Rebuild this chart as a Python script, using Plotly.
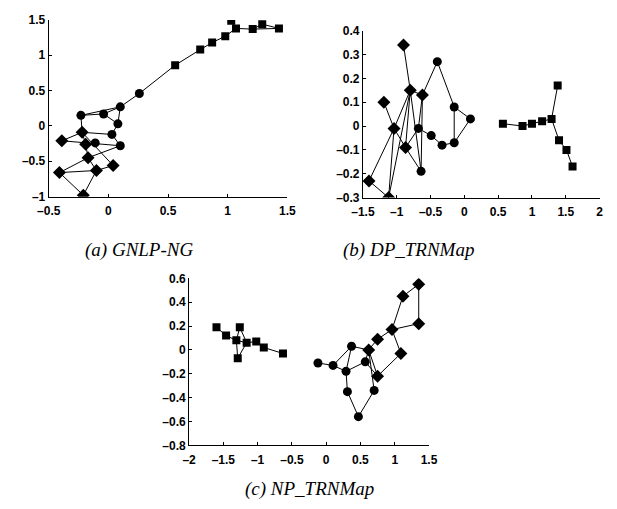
import plotly.graph_objects as go

# ---------------- Panel (a) GNLP-NG ----------------
A_SQ_X = [1.03, 1.07, 1.21, 1.29, 1.43, 0.98, 0.87, 0.77, 0.56]
A_SQ_Y = [1.49, 1.38, 1.37, 1.44, 1.38, 1.27, 1.18, 1.08, 0.86]
A_CI_X = [0.26, 0.10, -0.04, -0.23, 0.08, 0.03, -0.11, 0.10]
A_CI_Y = [0.46, 0.27, 0.17, 0.15, 0.03, -0.12, -0.24, -0.28]
A_DI_X = [-0.22, -0.39, -0.19, -0.17, 0.04, -0.10, -0.41, -0.21]
A_DI_Y = [-0.09, -0.21, -0.26, -0.45, -0.56, -0.63, -0.66, -0.98]
A_EDGES = [("c0", "s8"), ("s8", "s7"), ("s7", "s6"), ("s6", "s5"), ("s5", "s1"),
           ("s1", "s0"), ("s1", "s2"), ("s2", "s3"), ("s3", "s4"), ("s2", "s4"),
           ("c0", "c1"), ("c1", "c3"), ("c1", "c2"), ("c2", "c3"), ("c1", "c4"),
           ("c2", "c4"), ("c3", "d0"), ("d0", "c5"), ("c4", "c5"), ("c5", "c7"),
           ("d0", "d1"), ("d1", "c7"), ("c6", "d2"), ("d0", "d2"), ("d2", "d3"),
           ("d0", "d4"), ("c7", "d3"), ("d3", "d6"), ("d6", "d5"), ("d3", "d5"),
           ("d5", "d4"), ("d6", "d7"), ("d5", "d7")]
A_XTICKS = [-0.5, 0, 0.5, 1, 1.5]
A_YTICKS = [-1, -0.5, 0, 0.5, 1, 1.5]
A_XRANGE = [-0.5, 1.5]
A_YRANGE = [-1, 1.5]

# ---------------- Panel (b) DP_TRNMap ----------------
B_SQ_X = [0.57, 0.86, 1.00, 1.15, 1.29, 1.38, 1.40, 1.51, 1.60]
B_SQ_Y = [0.01, 0.00, 0.01, 0.02, 0.03, 0.17, -0.06, -0.10, -0.17]
B_CI_X = [-0.40, -0.15, 0.09, -0.15, -0.33, -0.49, -0.68, -0.64]
B_CI_Y = [0.27, 0.08, 0.03, -0.07, -0.08, -0.04, -0.01, -0.19]
B_DI_X = [-0.90, -0.80, -0.62, -1.19, -1.04, -0.87, -1.41, -1.12]
B_DI_Y = [0.34, 0.15, 0.13, 0.10, -0.01, -0.09, -0.23, -0.30]
B_EDGES = [("s0", "s1"), ("s1", "s2"), ("s2", "s3"), ("s3", "s4"), ("s4", "s5"),
           ("s4", "s6"), ("s6", "s7"), ("s7", "s8"),
           ("d0", "d1"), ("d1", "d2"), ("d2", "c0"), ("c0", "c1"), ("c1", "c2"),
           ("c1", "c3"), ("c2", "c3"), ("c3", "c4"), ("c4", "c5"), ("c5", "c6"),
           ("d2", "c7"), ("d2", "c6"), ("d1", "d5"), ("d1", "c7"), ("d1", "d4"),
           ("d1", "d7"), ("d3", "d4"), ("d4", "d5"), ("d4", "d7"), ("d4", "d6"),
           ("d6", "d7"), ("d5", "c6"), ("d5", "c7")]
B_XTICKS = [-1.5, -1, -0.5, 0, 0.5, 1, 1.5, 2]
B_YTICKS = [-0.3, -0.2, -0.1, 0, 0.1, 0.2, 0.3, 0.4]
B_XRANGE = [-1.5, 2]
B_YRANGE = [-0.3, 0.4]

# ---------------- Panel (c) NP_TRNMap ----------------
C_SQ_X = [-1.60, -1.46, -1.31, -1.26, -1.16, -1.29, -1.02, -0.91, -0.63]
C_SQ_Y = [0.19, 0.12, 0.08, 0.19, 0.06, -0.07, 0.07, 0.02, -0.03]
C_CI_X = [-0.12, 0.10, 0.29, 0.37, 0.57, 0.31, 0.70, 0.47]
C_CI_Y = [-0.11, -0.13, -0.18, 0.03, -0.10, -0.35, -0.34, -0.56]
C_DI_X = [0.62, 0.75, 0.96, 1.12, 1.35, 1.35, 1.09, 0.75]
C_DI_Y = [0.00, 0.09, 0.17, 0.45, 0.55, 0.22, -0.03, -0.22]
C_EDGES = [("s0", "s1"), ("s1", "s2"), ("s2", "s4"), ("s3", "s2"), ("s3", "s4"),
           ("s2", "s5"), ("s5", "s4"), ("s4", "s6"), ("s6", "s7"), ("s7", "s8"),
           ("c0", "c1"), ("c1", "c2"), ("c1", "c3"), ("c2", "c3"), ("c3", "d0"),
           ("c2", "c4"), ("c4", "d0"), ("d0", "d1"), ("d1", "d2"), ("d2", "d3"),
           ("d3", "d4"), ("d4", "d5"), ("d5", "d2"), ("d2", "d6"), ("d6", "d7"),
           ("d0", "d7"), ("d0", "c6"), ("c4", "d7"), ("c2", "c5"), ("c5", "c7"),
           ("c7", "c6")]
C_XTICKS = [-2, -1.5, -1, -0.5, 0, 0.5, 1, 1.5]
C_YTICKS = [-0.8, -0.6, -0.4, -0.2, 0, 0.2, 0.4, 0.6]
C_XRANGE = [-2, 1.5]
C_YRANGE = [-0.8, 0.6]

CAPTIONS = ["(a) GNLP-NG", "(b) DP_TRNMap", "(c) NP_TRNMap"]

W, H = 617, 509
# plot boxes in pixels: left, right, top, bottom
BOXES = [(38, 285, 13.3, 195), (363.3, 608.3, 24.3, 196), (183.3, 431.7, 279, 450.7)]
CAP_POS = [(131, 250), (410, 250), (308, 496)]

panels = [
    (A_SQ_X, A_SQ_Y, A_CI_X, A_CI_Y, A_DI_X, A_DI_Y, A_EDGES, A_XTICKS, A_YTICKS, A_XRANGE, A_YRANGE),
    (B_SQ_X, B_SQ_Y, B_CI_X, B_CI_Y, B_DI_X, B_DI_Y, B_EDGES, B_XTICKS, B_YTICKS, B_XRANGE, B_YRANGE),
    (C_SQ_X, C_SQ_Y, C_CI_X, C_CI_Y, C_DI_X, C_DI_Y, C_EDGES, C_XTICKS, C_YTICKS, C_XRANGE, C_YRANGE),
]


def fmt(v):
    s = ("%g" % v)
    return "<b>%s</b>" % s.replace("-", "\u2013")


fig = go.Figure()
layout = dict(width=W, height=H, margin=dict(l=0, r=0, t=0, b=0),
              paper_bgcolor="white", plot_bgcolor="white", showlegend=False)

tickfont = dict(family="Liberation Sans, Arial, sans-serif", size=12, color="black",
                weight="bold")

for i, (sx, sy, cx, cy, dx, dy, edges, xt, yt, xr, yr) in enumerate(panels):
    n = "" if i == 0 else str(i + 1)
    xa, ya = "x" + n, "y" + n
    nodes = {}
    for k in range(len(sx)):
        nodes["s%d" % k] = (sx[k], sy[k])
    for k in range(len(cx)):
        nodes["c%d" % k] = (cx[k], cy[k])
    for k in range(len(dx)):
        nodes["d%d" % k] = (dx[k], dy[k])
    ex, ey = [], []
    for a, b in edges:
        ex += [nodes[a][0], nodes[b][0], None]
        ey += [nodes[a][1], nodes[b][1], None]
    fig.add_trace(go.Scatter(x=ex, y=ey, mode="lines", xaxis=xa, yaxis=ya,
                             line=dict(color="black", width=1), hoverinfo="skip"))
    fig.add_trace(go.Scatter(x=sx, y=sy, mode="markers", xaxis=xa, yaxis=ya,
                             marker=dict(symbol="square", size=8, color="black")))
    fig.add_trace(go.Scatter(x=cx, y=cy, mode="markers", xaxis=xa, yaxis=ya,
                             marker=dict(symbol="circle", size=9, color="black")))
    fig.add_trace(go.Scatter(x=dx, y=dy, mode="markers", xaxis=xa, yaxis=ya,
                             marker=dict(symbol="diamond", size=10, color="black")))
    l, r, t, b = BOXES[i]
    common = dict(showgrid=False, zeroline=False, showline=True, linecolor="black",
                  linewidth=1, ticks="inside", ticklen=3, tickcolor="black",
                  tickfont=tickfont, mirror=False, fixedrange=True)
    layout["xaxis" + n] = dict(domain=[l / W, r / W], range=xr, anchor=ya,
                               tickvals=xt, ticktext=[fmt(v) for v in xt],
                               ticklabelstandoff=3, **common)
    layout["yaxis" + n] = dict(domain=[1 - b / H, 1 - t / H], range=yr, anchor=xa,
                               tickvals=yt, ticktext=[fmt(v) for v in yt], **common)

annotations = []
for cap, (px, py) in zip(CAPTIONS, CAP_POS):
    annotations.append(dict(text="<i>%s</i>" % cap, x=px / W, y=1 - py / H, xref="paper",
                            yref="paper", showarrow=False, xanchor="center", yanchor="middle",
                            font=dict(family="Liberation Serif, Times New Roman, serif",
                                      size=19, color="black")))
layout["annotations"] = annotations
fig.update_layout(**layout)
fig.write_html("out.html")
